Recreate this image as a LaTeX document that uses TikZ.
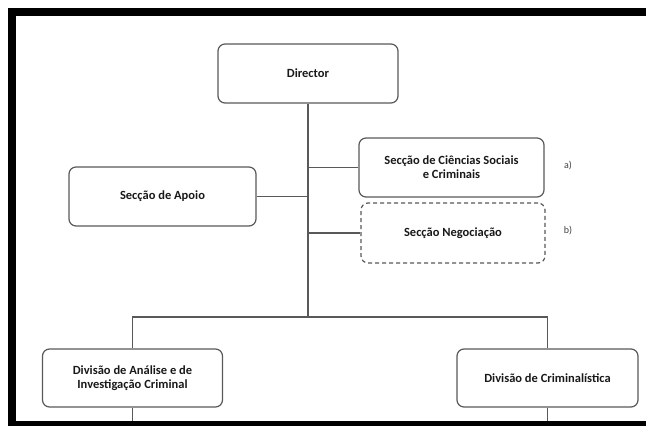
\documentclass[tikz,border=0pt]{standalone}
\usepackage{fontspec}
\setmainfont{Carlito}
\usetikzlibrary{positioning}
\tikzset{
    unit/.style={draw=black!65, line width=1.2pt, rounded corners=7pt, fill=white,
        align=center, inner sep=0pt, text=black!90,
        font=\fontsize{12.5}{14}\selectfont\bfseries},
    link/.style={draw=black!65, line width=1.2pt},
    note/.style={text=black!75, font=\fontsize{10}{12}\selectfont}
}

\begin{document}
\begin{tikzpicture}[x=1pt, y=-1pt]
    \useasboundingbox (0,0) rectangle (646,426);
    \node[unit, minimum width=180pt, minimum height=59pt] (director) at (308,73.5) {Director};
    \node[unit, minimum width=185pt, minimum height=59pt] (ciencias) at (451.5,167.5) {Secção de Ciências Sociais\\e Criminais};
    \node[unit, minimum width=187pt, minimum height=59pt] (apoio) at (162.5,196.5) {Secção de Apoio};
    \node[unit, dash pattern=on 4pt off 3pt, minimum width=184pt, minimum height=60pt] (negoc) at (453,233) {Secção Negociação};
    \node[unit, minimum width=180pt, minimum height=58pt] (analise) at (132.5,378) {Divisão de Análise e de\\Investigação Criminal};
    \node[unit, minimum width=181pt, minimum height=58pt] (crimin) at (547.5,378) {Divisão de Criminalística};
    \node[note] (nota) at (568,166) {a)};
    \node[note] (notb) at (568,231) {b)};
    % ligacoes
    \coordinate (trunk) at (director.south |- 0,317);
    \coordinate (cutl) at (analise.south |- 0,421);
    \coordinate (cutr) at (crimin.south |- 0,421);
    \draw[link] (director.south) -- (trunk);
    \draw[link] (analise.north) |- (trunk) -| (crimin.north);
    \draw[link] (ciencias.west) -- (ciencias.west -| director.south);
    \draw[link] (apoio.east) -- (apoio.east -| director.south);
    \draw[link] (negoc.west) -- (negoc.west -| director.south);
    \draw[link] (analise.south) -- (cutl);
    \draw[link] (crimin.south) -- (cutr);
    % moldura
    \fill[black] (8,8) rectangle (646,16);
    \fill[black] (8,8) rectangle (16,426);
    \fill[black] (8,421) rectangle (646,426);
\end{tikzpicture}
\end{document}
